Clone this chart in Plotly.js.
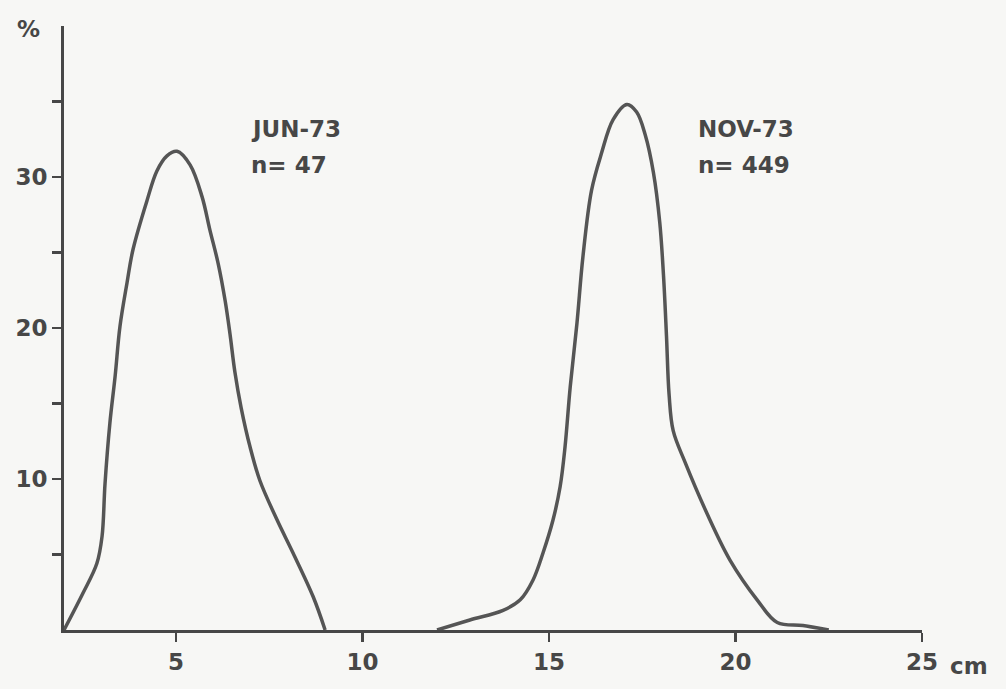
<!DOCTYPE html>
<html>
<head>
<meta charset="utf-8">
<script src="https://cdn.plot.ly/plotly-3.0.1.min.js"></script>
<style>html,body{margin:0;padding:0;background:#f7f7f5;}</style>
</head>
<body>
<div id="chart" style="width:1006px;height:689px;"></div>
<script>
// JUN-73 length-frequency (n = 47)
const junLength = [2.0, 2.5, 2.88, 3.02, 3.1, 3.23, 3.37, 3.5, 3.69, 3.85, 4.22, 4.49, 4.76, 5.03, 5.38, 5.70, 5.91, 6.13, 6.32, 6.45, 6.58, 6.75, 6.99, 7.25, 7.71, 8.14, 8.68, 9.0];
const junPct    = [0.0, 2.4, 4.4, 6.2, 9.7, 13.7, 16.8, 20.1, 23.0, 25.2, 28.4, 30.4, 31.4, 31.7, 30.8, 28.7, 26.5, 24.3, 21.8, 19.6, 17.1, 14.7, 12.1, 9.9, 7.3, 5.1, 2.2, 0.0];

// NOV-73 length-frequency (n = 449)
const novLength = [12.0, 12.88, 13.77, 14.23, 14.57, 14.84, 15.11, 15.30, 15.43, 15.57, 15.75, 15.91, 16.14, 16.40, 16.72, 17.09, 17.35, 17.58, 17.80, 17.97, 18.07, 18.15, 18.22, 18.33, 18.65, 19.24, 19.86, 20.58, 21.12, 21.81, 22.5];
const novPct    = [0.0, 0.66, 1.3, 2.0, 3.3, 5.1, 7.3, 9.5, 12.1, 16.1, 20.3, 24.7, 29.1, 31.5, 33.8, 34.8, 34.3, 32.8, 30.3, 27.0, 23.5, 19.5, 15.6, 13.2, 11.1, 7.7, 4.6, 2.0, 0.5, 0.3, 0.0];

const xTickVals = [5, 10, 15, 20, 25];
const xTickText = ['5', '10', '15', '20', '25'];
const yTickVals = [5, 10, 15, 20, 25, 30, 35];
const yTickText = ['', '10', '', '20', '', '30', ''];

const ink = '#474747';
const fnt = {family: 'DejaVu Sans, sans-serif', size: 23, color: ink, weight: 'bold'};

const lineStyle = {color: '#555', width: 3.5, shape: 'spline', smoothing: 1};
const traces = [
  {x: junLength, y: junPct, mode: 'lines', line: lineStyle, hoverinfo: 'skip', cliponaxis: false},
  {x: novLength, y: novPct, mode: 'lines', line: lineStyle, hoverinfo: 'skip', cliponaxis: false}
];

const layout = {
  width: 1006, height: 689,
  margin: {l: 64, r: 84, t: 26, b: 59},
  paper_bgcolor: '#f7f7f5', plot_bgcolor: '#f7f7f5',
  showlegend: false,
  font: fnt,
  xaxis: {
    range: [2, 25], showgrid: false, zeroline: false,
    showline: true, linecolor: ink, linewidth: 3,
    tickmode: 'array', tickvals: xTickVals, ticktext: xTickText,
    ticks: 'outside', ticklen: 9, tickwidth: 2.5, tickcolor: ink,
    tickfont: fnt
  },
  yaxis: {
    range: [0, 40], showgrid: false, zeroline: false,
    showline: true, linecolor: ink, linewidth: 3,
    tickmode: 'array', tickvals: yTickVals, ticktext: yTickText,
    ticks: 'outside', ticklen: 9, tickwidth: 2.5, tickcolor: ink,
    tickfont: fnt
  },
  annotations: [
    {xref: 'paper', yref: 'paper', x: -0.041, y: 0.995, text: '%', showarrow: false, font: fnt, xanchor: 'center', yanchor: 'middle'},
    {xref: 'paper', yref: 'paper', x: 1.0, y: 0, yshift: -36, xshift: 26, text: 'cm', showarrow: false, font: fnt, xanchor: 'left', yanchor: 'middle'},
    {xref: 'x', yref: 'y', x: 6.95, y: 33.2, text: 'JUN-73', showarrow: false, font: fnt, xanchor: 'left', yanchor: 'middle'},
    {xref: 'x', yref: 'y', x: 6.95, y: 30.8, text: 'n= 47', showarrow: false, font: fnt, xanchor: 'left', yanchor: 'middle'},
    {xref: 'x', yref: 'y', x: 18.95, y: 33.2, text: 'NOV-73', showarrow: false, font: fnt, xanchor: 'left', yanchor: 'middle'},
    {xref: 'x', yref: 'y', x: 18.95, y: 30.8, text: 'n= 449', showarrow: false, font: fnt, xanchor: 'left', yanchor: 'middle'}
  ]
};

Plotly.newPlot('chart', traces, layout, {staticPlot: true, displayModeBar: false});
</script>
</body>
</html>
